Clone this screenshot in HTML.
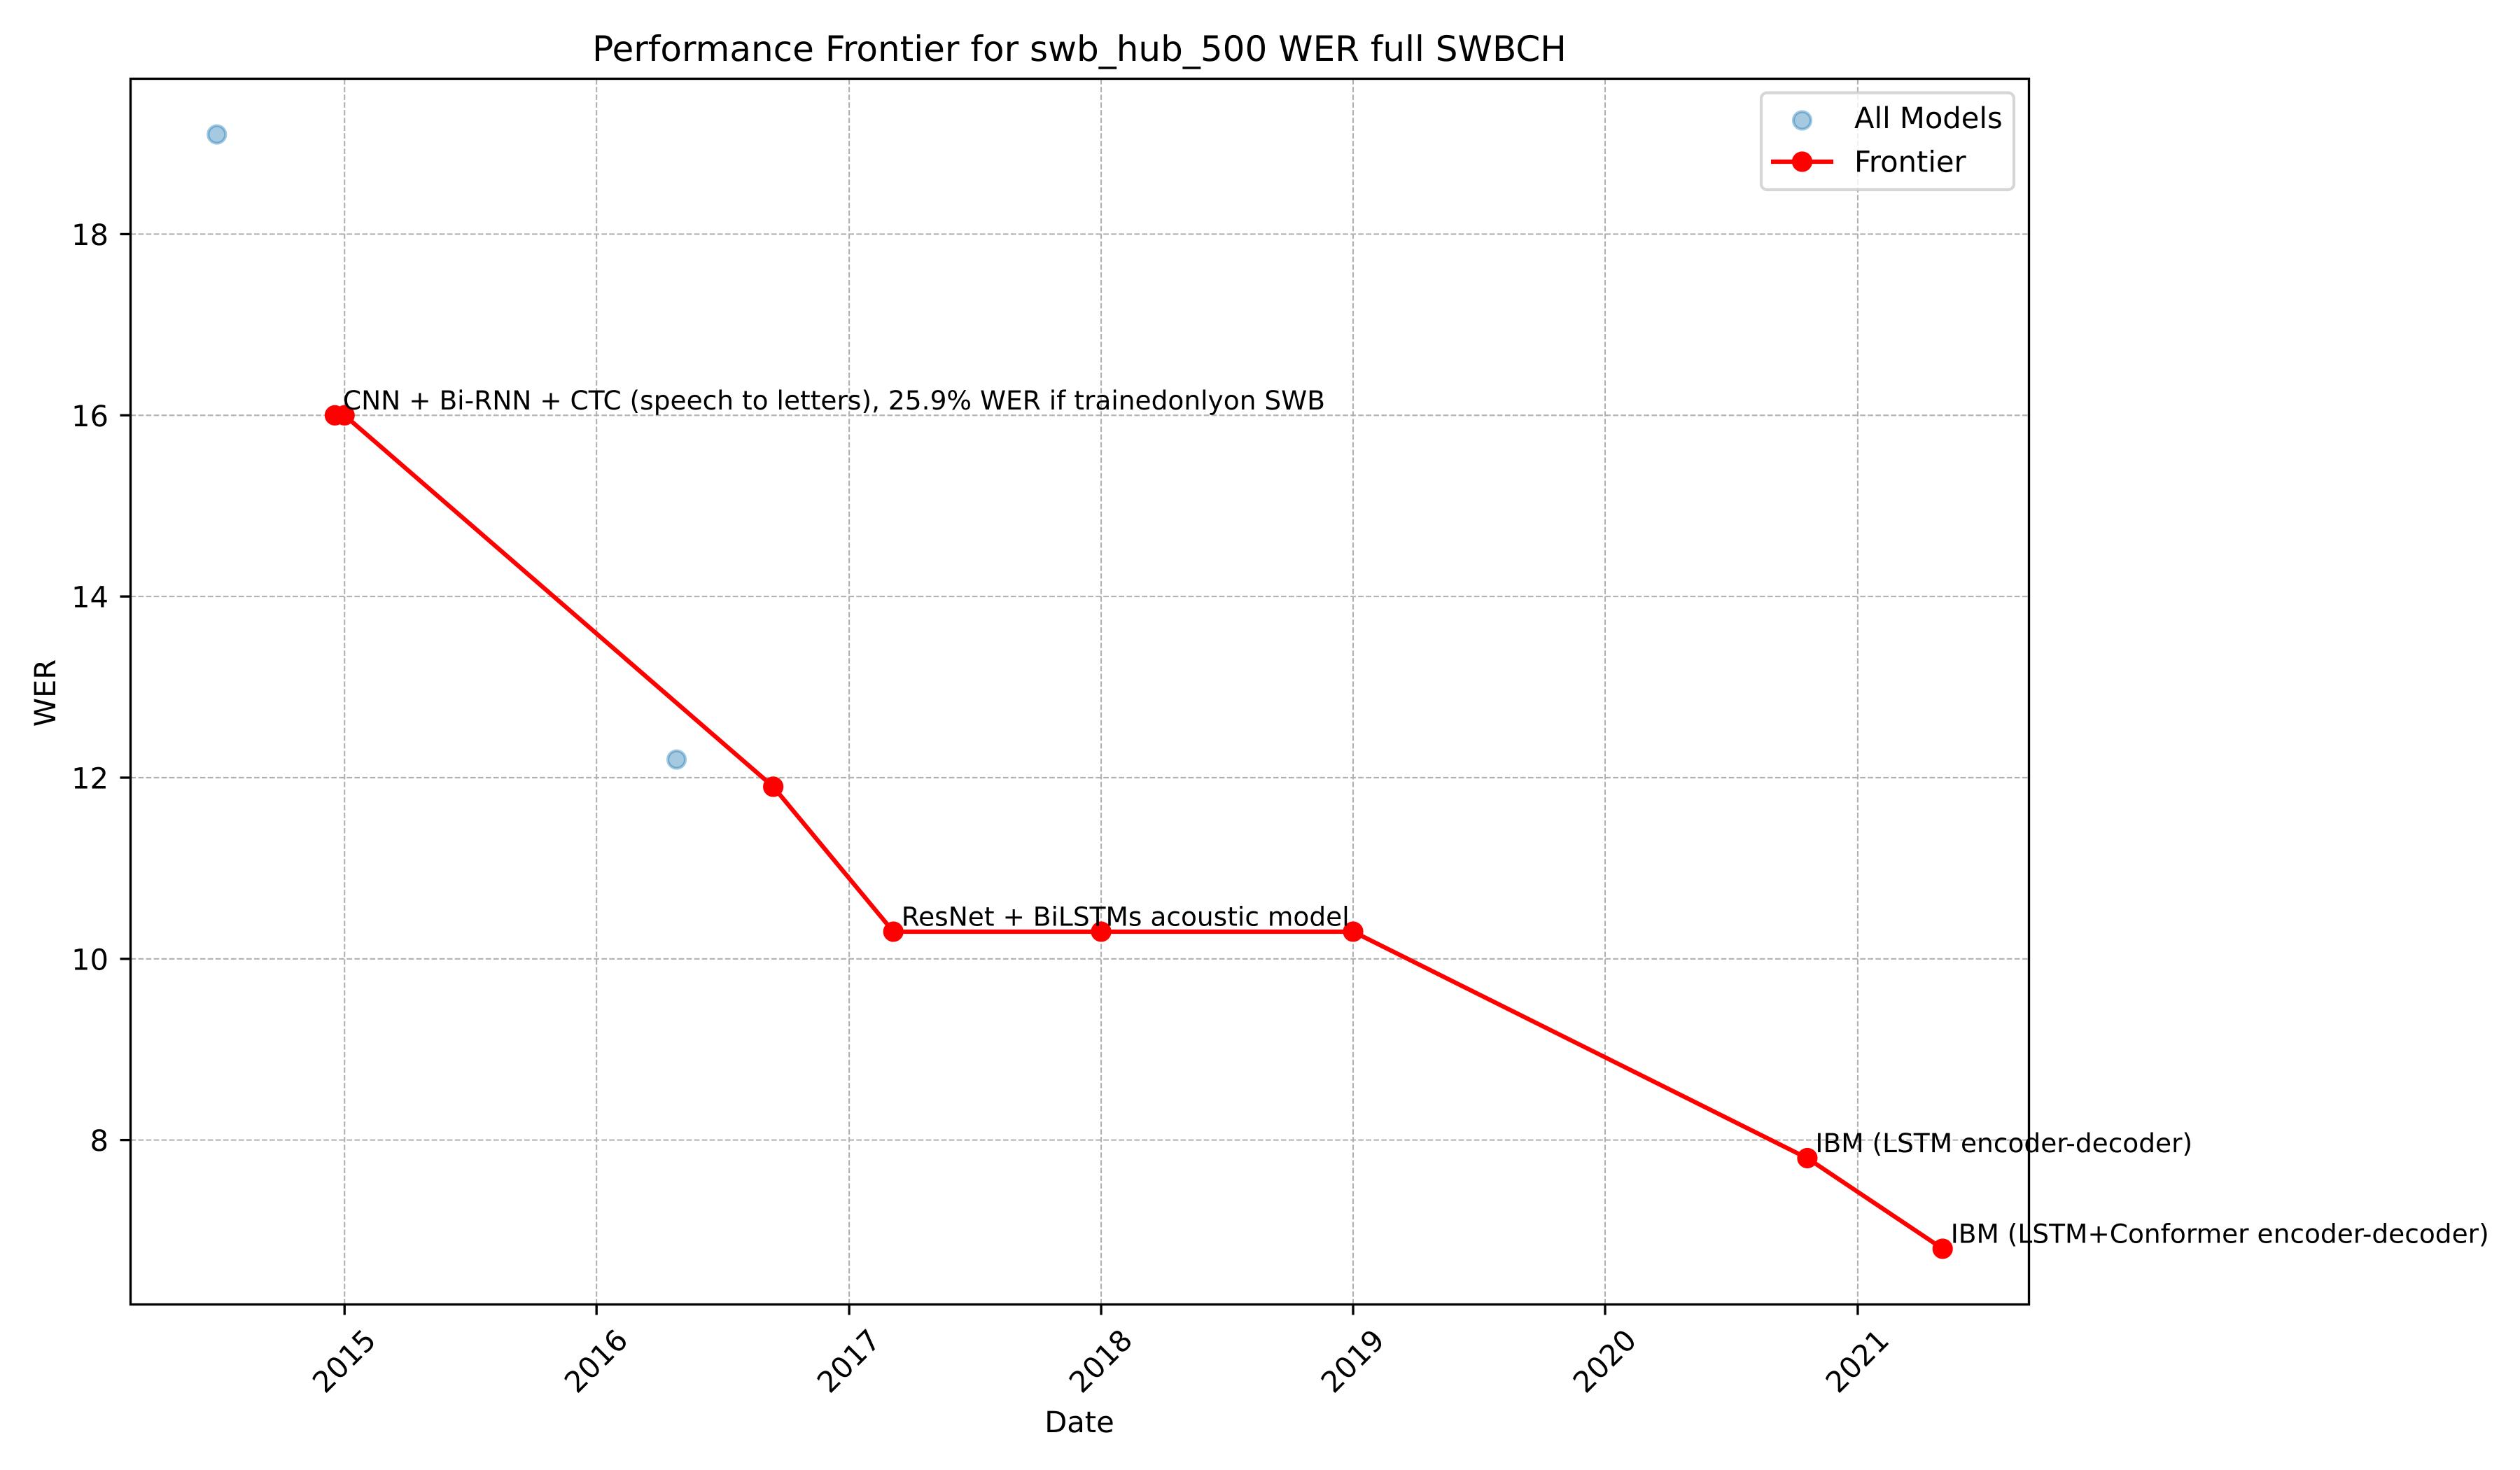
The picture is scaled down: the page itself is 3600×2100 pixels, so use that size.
<!DOCTYPE html>
<html lang="en">
<head>
<meta charset="utf-8">
<title>Performance Frontier for swb_hub_500 WER full SWBCH</title>
<style>
html,body{margin:0;padding:0;background:#fff;width:3600px;height:2100px;overflow:hidden}
svg{display:block;font-family:"DejaVu Sans","Liberation Sans",sans-serif;text-rendering:geometricPrecision}
</style>
</head>
<body>
<svg id="chart" xmlns="http://www.w3.org/2000/svg" width="3600" height="2100" viewBox="0 0 3600 2100">
  <rect x="0" y="0" width="3600" height="2100" fill="#ffffff"/>
  <defs><clipPath id="plot-clip"><rect x="186.5" y="112.5" width="2712" height="1751"/></clipPath></defs>
  <g id="grid" clip-path="url(#plot-clip)"></g>
  <g id="scatter"></g>
  <g id="frontier"></g>
  <g id="ticks"></g>
  <rect x="186.5" y="112.5" width="2712" height="1751" fill="none" stroke="#000" stroke-width="3.33"/>
  <g id="annotations"></g>
  <text x="1542" y="87" font-size="50" text-anchor="middle">Performance Frontier for swb_hub_500 WER full SWBCH</text>
  <text x="1542" y="2046" font-size="41.67" text-anchor="middle">Date</text>
  <text transform="translate(79 990) rotate(-90)" font-size="41.67" text-anchor="middle">WER</text>
  <g>
    <rect x="2516" y="132.5" width="361" height="138.5" rx="8.3" ry="8.3" fill="#ffffff" fill-opacity="0.8" stroke="#cccccc" stroke-opacity="0.8" stroke-width="4.17"/>
    <g>
      <circle cx="2574.5" cy="172" r="12.5" fill="#1f77b4" fill-opacity="0.4" stroke="#1f77b4" stroke-opacity="0.4" stroke-width="4.17"/>
      <text x="2649" y="183" font-size="41.67">All Models</text>
    </g>
    <g>
      <line x1="2530" y1="231" x2="2619" y2="231" stroke="#ff0000" stroke-width="6.25"/>
      <circle cx="2574.5" cy="231" r="12.5" fill="#ff0000" stroke="#ff0000" stroke-width="4.17"/>
      <text x="2649" y="245.5" font-size="41.67">Frontier</text>
    </g>
  </g>
</svg>
<script>
const xDomain = ['2014-02-25', '2021-09-06'];
const yDomain = [6.185, 19.715];
const xTickLabels = ['2015', '2016', '2017', '2018', '2019', '2020', '2021'];
const yTickLabels = ['8', '10', '12', '14', '16', '18'];
const allModelDates = ['2014-06-30', '2016-04-26'];
const allModelWer = [19.1, 12.2];
const frontierDates = ['2014-12-18', '2015-01-01', '2016-09-13', '2017-03-06', '2018-01-01', '2019-01-01', '2020-10-20', '2021-05-04'];
const frontierWer = [16, 16, 11.9, 10.3, 10.3, 10.3, 7.8, 6.8];
const annotationDates = ['2014-12-18', '2017-03-06', '2020-10-20', '2021-05-04'];
const annotationWer = [16, 10.3, 7.8, 6.8];
const annotationLabels = [
  'CNN + Bi-RNN + CTC (speech to letters), 25.9% WER if trainedonlyon SWB',
  'ResNet + BiLSTMs acoustic model',
  'IBM (LSTM encoder-decoder)',
  'IBM (LSTM+Conformer encoder-decoder)'
];

const NS = 'http://www.w3.org/2000/svg';
const plot = { left: 186.5, right: 2898.5, top: 112.5, bottom: 1863.5 };
function make(tag, parent, props) {
  const node = document.createElementNS(NS, tag);
  for (const key in props) node.setAttribute(key, props[key]);
  parent.appendChild(node);
  return node;
}
function xScale(dateString) {
  const t = Date.parse(dateString + 'T00:00:00Z');
  const t0 = Date.parse(xDomain[0] + 'T00:00:00Z');
  const t1 = Date.parse(xDomain[1] + 'T00:00:00Z');
  return plot.left + (t - t0) / (t1 - t0) * (plot.right - plot.left);
}
function yScale(value) {
  return plot.bottom - (value - yDomain[0]) / (yDomain[1] - yDomain[0]) * (plot.bottom - plot.top);
}
const gridGroup = document.getElementById('grid');
const tickGroup = document.getElementById('ticks');
const gridStyle = { stroke: '#b0b0b0', 'stroke-width': 2.08, 'stroke-dasharray': '7.7 3.33', fill: 'none' };

xTickLabels.forEach(function (label) {
  const x = xScale(label + '-01-01');
  const gridLine = make('line', gridGroup, Object.assign({ x1: x, y1: plot.bottom, x2: x, y2: plot.top }, gridStyle));
  
  
  const tick = make('line', tickGroup, { x1: x, y1: plot.bottom, x2: x, y2: plot.bottom + 15, stroke: '#000', 'stroke-width': 3.33 });
  
  
  const text = make('text', tickGroup, { transform: 'translate(' + (x - 1) + ' 1944) rotate(-45)', y: 15, 'font-size': 41.67, 'text-anchor': 'middle' });
  text.textContent = label;
  
  
});

yTickLabels.forEach(function (label) {
  const y = yScale(Number(label));
  const gridLine = make('line', gridGroup, Object.assign({ x1: plot.left, y1: y, x2: plot.right, y2: y }, gridStyle));
  
  
  const tick = make('line', tickGroup, { x1: plot.left, y1: y, x2: plot.left - 15, y2: y, stroke: '#000', 'stroke-width': 3.33 });
  
  
  const text = make('text', tickGroup, { x: 155, y: y + 15.5, 'font-size': 41.67, 'text-anchor': 'end' });
  text.textContent = label;
  
  
});

const scatterGroup = document.getElementById('scatter');
allModelDates.forEach(function (date, i) {
  const point = make('circle', scatterGroup, { cx: xScale(date), cy: yScale(allModelWer[i]), r: 12.5, fill: '#1f77b4', 'fill-opacity': 0.4, stroke: '#1f77b4', 'stroke-opacity': 0.4, 'stroke-width': 4.17 });
  
  
});

const frontierGroup = document.getElementById('frontier');
const linePoints = frontierDates.map(function (date, i) {
  return xScale(date) + ',' + yScale(frontierWer[i]);
}).join(' ');
const frontierLine = make('polyline', frontierGroup, { points: linePoints, fill: 'none', stroke: '#ff0000', 'stroke-width': 6.25, 'stroke-linejoin': 'round' });


frontierDates.forEach(function (date, i) {
  const point = make('circle', frontierGroup, { cx: xScale(date), cy: yScale(frontierWer[i]), r: 12.5, fill: '#ff0000', stroke: '#ff0000', 'stroke-width': 4.17 });
  
  
});

const annotationGroup = document.getElementById('annotations');
annotationLabels.forEach(function (label, i) {
  const text = make('text', annotationGroup, { x: xScale(annotationDates[i]) + 11.5, y: yScale(annotationWer[i]) - 8.3, 'font-size': 37.5 });
  text.textContent = label;
  
  
});
</script>
</body>
</html>
